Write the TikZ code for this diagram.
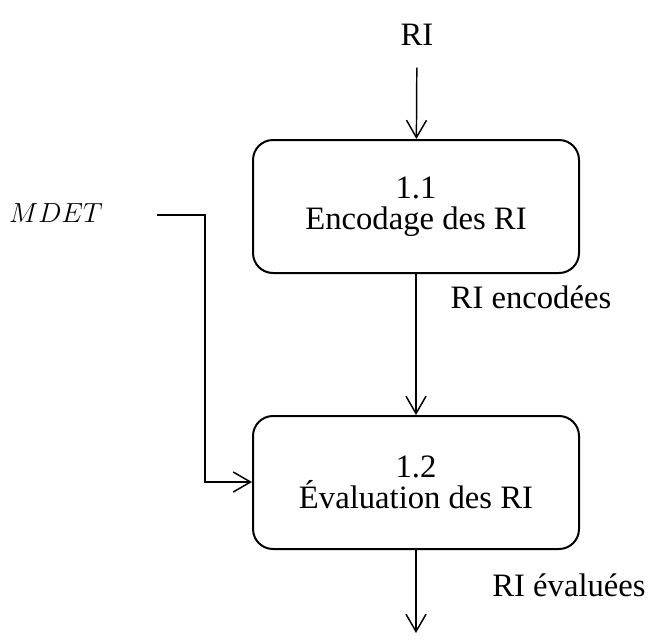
\documentclass[tikz,border=0pt]{standalone}
\usepackage{fontspec}
\setmainfont{Liberation Serif}
\usetikzlibrary{positioning,arrows.meta}
\tikzset{%
  process/.style={draw,line width=1.5pt,rounded corners=15pt,
    minimum width=244.5pt,minimum height=99.75pt,align=center,
    font=\fontsize{24.5}{23.5}\selectfont},
  lbl/.style={font=\fontsize{24.5}{23.5}\selectfont},
  flow/.style={line width=1.1pt,-{Straight Barb[length=13pt,width=15pt,line width=1.1pt]}}
}

\begin{document}
\begin{tikzpicture}[x=0.75pt,y=-0.75pt]
  \useasboundingbox (0,0) rectangle (648,639);

  \node [style=lbl] (ri) at (417,35) {RI};
  \node [process] (enc) at (416,206.5) {1.1\\Encodage des RI};
  \node [process,below=105.75pt of enc] (eval) {1.2\\Évaluation des RI};

  \node [style=lbl] (encl) at (531,297) {RI encodées};
  \node [style=lbl] (evall) at (569,585) {RI évaluées};
  \node [font=\fontsize{19.5}{20}\selectfont] (mdet) at (56,213) {$MDET$};

  \coordinate (out) at (416,633);
  \coordinate (m1) at (157,215);
  \coordinate (m2) at (205,482);

  \draw [flow,shorten <=13pt] (ri) -- (enc);
  \draw [flow] (enc) -- (eval);
  \draw [flow] (eval) -- (out);
  \draw [flow] (m1) -| (m2) -- (m2 -| eval.west);
\end{tikzpicture}
\end{document}
